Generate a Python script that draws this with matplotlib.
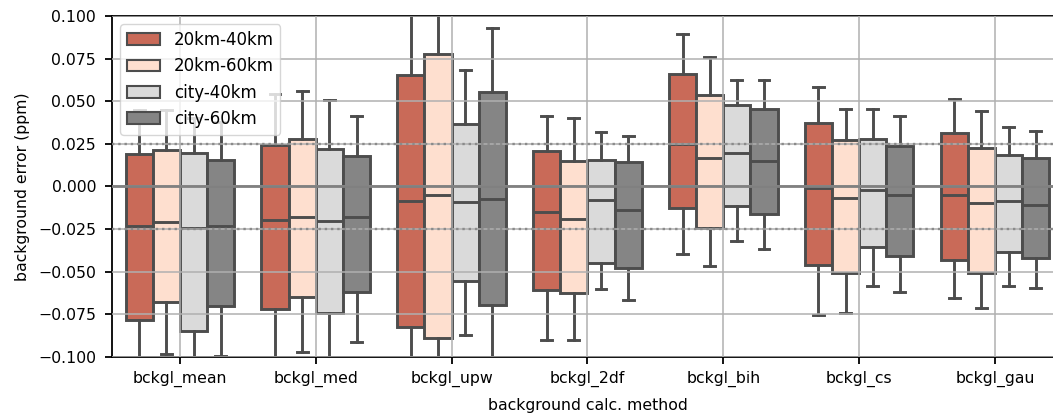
import matplotlib
matplotlib.use("Agg")
import matplotlib.pyplot as plt
from matplotlib.patches import Patch
import numpy as np

plt.rcParams['font.size'] = 11.3

methods = ['bckgl_mean', 'bckgl_med', 'bckgl_upw', 'bckgl_2df',
           'bckgl_bih', 'bckgl_cs', 'bckgl_gau']
series = ['20km-40km', '20km-60km', 'city-40km', 'city-60km']
colors = ['#c96a58', '#fedfcf', '#dadada', '#858585']

# per series: one value per method
q1 = {
    '20km-40km': [-0.0784, -0.0720, -0.0827, -0.0608, -0.0125, -0.0462, -0.0431],
    '20km-60km': [-0.0680, -0.0651, -0.0891, -0.0626, -0.0242, -0.0505, -0.0505],
    'city-40km': [-0.0846, -0.0743, -0.0554, -0.0447, -0.0115, -0.0355, -0.0382],
    'city-60km': [-0.0700, -0.0618, -0.0694, -0.0476, -0.0160, -0.0408, -0.0417],
}
q3 = {
    '20km-40km': [0.0191, 0.0246, 0.0655, 0.0207, 0.0661, 0.0372, 0.0314],
    '20km-60km': [0.0216, 0.0279, 0.0778, 0.0150, 0.0538, 0.0275, 0.0226],
    'city-40km': [0.0197, 0.0220, 0.0369, 0.0154, 0.0480, 0.0279, 0.0183],
    'city-60km': [0.0154, 0.0177, 0.0552, 0.0144, 0.0454, 0.0236, 0.0168],
}
med = {
    '20km-40km': [-0.0232, -0.0197, -0.0086, -0.0150, 0.0252, -0.0008, -0.0047],
    '20km-60km': [-0.0209, -0.0177, -0.0051, -0.0189, 0.0168, -0.0070, -0.0096],
    'city-40km': [-0.0246, -0.0203, -0.0090, -0.0082, 0.0197, -0.0018, -0.0086],
    'city-60km': [-0.0232, -0.0180, -0.0072, -0.0138, 0.0152, -0.0047, -0.0109],
}
whishi = {
    '20km-40km': [0.0450, 0.0544, 0.1200, 0.0411, 0.0893, 0.0583, 0.0515],
    '20km-60km': [0.0450, 0.0558, 0.1200, 0.0402, 0.0762, 0.0456, 0.0441],
    'city-40km': [0.0400, 0.0509, 0.0684, 0.0322, 0.0626, 0.0456, 0.0347],
    'city-60km': [0.0376, 0.0415, 0.0928, 0.0298, 0.0626, 0.0411, 0.0324],
}
whislo = {
    '20km-40km': [-0.1100, -0.1100, -0.1200, -0.0900, -0.0398, -0.0755, -0.0655],
    '20km-60km': [-0.0980, -0.0973, -0.1100, -0.0899, -0.0466, -0.0743, -0.0714],
    'city-40km': [-0.1100, -0.1100, -0.0870, -0.0603, -0.0320, -0.0583, -0.0583],
    'city-60km': [-0.0993, -0.0910, -0.1200, -0.0665, -0.0365, -0.0618, -0.0597],
}

fig = plt.figure(figsize=(10.53, 4.13), dpi=100)
ax = fig.add_axes([0.1064, 0.1356, 0.903, 0.8257])

edge = '#4d4d4d'
box_w = 0.2
x = np.arange(len(methods))
for j, s in enumerate(series):
    stats = []
    for i in range(len(methods)):
        stats.append(dict(med=med[s][i], q1=q1[s][i], q3=q3[s][i],
                          whislo=whislo[s][i], whishi=whishi[s][i], fliers=[]))
    pos = x - 0.3 + j * box_w
    ax.bxp(stats, positions=pos, widths=box_w, patch_artist=True,
           showfliers=False, capwidths=box_w * 0.4, manage_ticks=False,
           boxprops=dict(facecolor=colors[j], edgecolor=edge, linewidth=2.1),
           medianprops=dict(color=edge, linewidth=2.1),
           whiskerprops=dict(color=edge, linewidth=2.1),
           capprops=dict(color=edge, linewidth=2.1))

ax.axhline(0, color='#808080', lw=2, zorder=5)
ax.axhline(0.025, color='#8a8a8a', lw=1.7, ls=':', zorder=5)
ax.axhline(-0.025, color='#8a8a8a', lw=1.7, ls=':', zorder=5)

ax.set_xlim(-0.5, len(methods) - 0.5)
ax.set_ylim(-0.1, 0.1)
ax.set_yticks(np.arange(-0.1, 0.1001, 0.025))
ax.set_xticks(x)
ax.set_xticklabels(methods)
ax.grid(True, color='#b0b0b0', lw=1.1, zorder=4)
ax.set_axisbelow(False)
for sp in ax.spines.values():
    sp.set_linewidth(1.3)
ax.tick_params(axis='both', length=5, width=1.3)
ax.tick_params(axis='y', pad=6.5)
ax.tick_params(axis='x', pad=5)

ax.set_xlabel('background calc. method', labelpad=8)
ax.set_ylabel('background error (ppm)', labelpad=6)

handles = [Patch(facecolor=c, edgecolor=edge, linewidth=1.5, label=s)
           for c, s in zip(colors, series)]
leg = ax.legend(handles=handles, loc='upper left', fontsize=12)
leg.set_zorder(10)

fig.savefig('out.png', dpi=100)
